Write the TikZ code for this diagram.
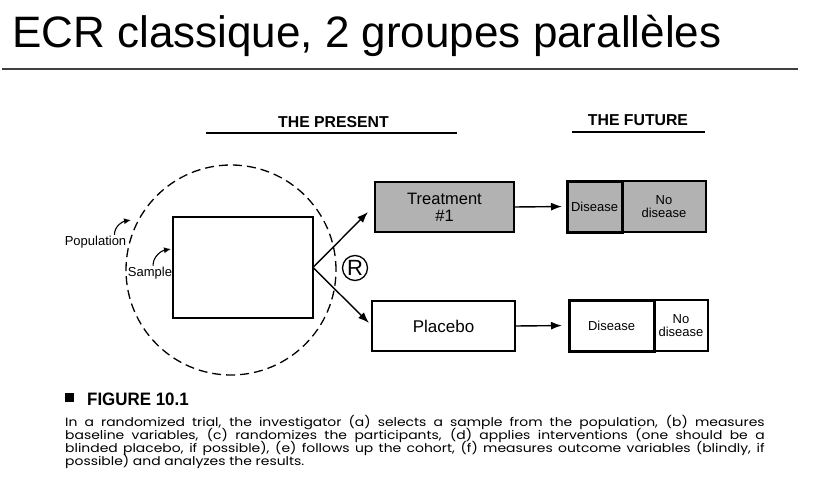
\documentclass[tikz,border=0pt]{standalone}
\usepackage{fontspec}
\setmainfont{Liberation Sans}
\newfontfamily\captfont{Poppins}
\usetikzlibrary{arrows.meta, positioning, calc}

\tikzset{
    box/.style={draw, line width=1.3pt, inner sep=0pt, outer sep=0pt},
    shaded/.style={fill=black!30},
    strong/.style={line width=3pt},
    outcome/.style={box, align=center, font=\fontsize{13}{13.5}\selectfont},
    label/.style={inner sep=1pt, font=\fontsize{13}{13}\selectfont},
    heading/.style={font=\bfseries\fontsize{15.8}{16}\selectfont},
    arrow/.style={-{Latex[length=11pt,width=8pt]}, line width=1.4pt},
    curvy/.style={-{Latex[length=7pt,width=6pt]}, line width=1.1pt},
    captline/.style={anchor=base west, inner sep=0pt, font=\captfont\fontsize{12}{13}\selectfont},
}
\newcommand{\capbox}[1]{\scalebox{1.16}[1]{\makebox[603pt][s]{#1}}}

\begin{document}
\begin{tikzpicture}[x=1pt, y=-1pt]
    \useasboundingbox (0,0) rectangle (818,484);

    % Title and rule
    \node[anchor=base west, inner sep=0pt, font=\fontsize{44}{48}\selectfont] (title) at (12,48) {ECR classique, 2 groupes parallèles};
    \draw[black!75, line width=1.5pt] (2,69) -- (798,69);

    % Headings
    \node[heading] (present) at (333.5,122) {THE PRESENT};
    \node[heading] (future) at (638,120) {THE FUTURE};
    \draw[line width=1.3pt] (206,133) -- (457,133);
    \draw[line width=1.3pt] (572,132) -- (705,132);

    % Population and sample
    \node[circle, draw, dash pattern=on 9pt off 5pt, line width=1.3pt, minimum size=210pt, inner sep=0pt] (popcircle) at (231,270) {};
    \node[box, minimum width=140pt, minimum height=101pt] (sample) at (243,267.5) {};
    \node[label] (poplabel) at (95.5,242) {Population};
    \node[label] (samplabel) at (150,273) {Sample};
    \coordinate (popto) at (131,220);
    \coordinate (sampto) at (171,249);
    \draw[curvy] ([xshift=-13pt]poplabel.north east) to[out=90, in=190] (popto);
    \draw[curvy] ([xshift=3pt]samplabel.north) to[out=90, in=190] (sampto);

    % Randomization
    \node[circle, draw, line width=1.3pt, inner sep=0pt, minimum size=25pt, font=\fontsize{22}{22}\selectfont] (rand) at (355,268) {R};

    % Interventions
    \node[box, shaded, minimum width=139pt, minimum height=50pt, align=center, font=\fontsize{16.5}{17}\selectfont] (treat) at (444.5,207) {Treatment\\\#1};
    \node[box, minimum width=143pt, minimum height=50pt, font=\fontsize{17}{17}\selectfont] (placebo) at (443.5,326) {Placebo};

    % Outcomes
    \node[outcome, shaded, minimum width=84pt, minimum height=51pt] (nodis1) at (664,206.5) {No\\disease};
    \node[outcome, shaded, strong, minimum width=55pt, minimum height=51pt, left=0pt of nodis1] (dis1) {Disease};
    \node[outcome, minimum width=54pt, minimum height=51pt] (nodis2) at (681,325.5) {No\\disease};
    \node[outcome, strong, minimum width=85pt, minimum height=51pt, left=0pt of nodis2] (dis2) {Disease};

    % Arrows
    \draw[arrow] (sample.east) -- ([xshift=-7pt,yshift=-5pt]treat.west);
    \draw[arrow] (sample.east) -- ([xshift=-3pt,yshift=3pt]placebo.west);
    \draw[arrow, shorten >=5pt] (treat.east) -- (dis1.west);
    \draw[arrow, shorten >=7pt] (placebo.east) -- (dis2.west);

    % Caption
    \node[fill, inner sep=0pt, minimum size=9pt] (bullet) at (69,397.5) {};
    \node[anchor=base west, inner sep=0pt, font=\bfseries\fontsize{18}{18}\selectfont] (figlabel) at (87,405) {\scalebox{0.94}[1]{FIGURE 10.1}};
    \foreach \i/\txt in {0/{In a randomized trial, the investigator (a) selects a sample from the population, (b) measures},
                         1/{baseline variables, (c) randomizes the participants, (d) applies interventions (one should be a},
                         2/{blinded placebo, if possible), (e) follows up the cohort, (f) measures outcome variables (blindly, if}} {
        \node[captline] (cap\i) at (65,{426+13.2*\i}) {\capbox{\txt}};
    }
    \node[captline] (cap3) at (65,465.6) {\scalebox{1.16}[1]{possible) and analyzes the results.}};

\end{tikzpicture}
\end{document}
